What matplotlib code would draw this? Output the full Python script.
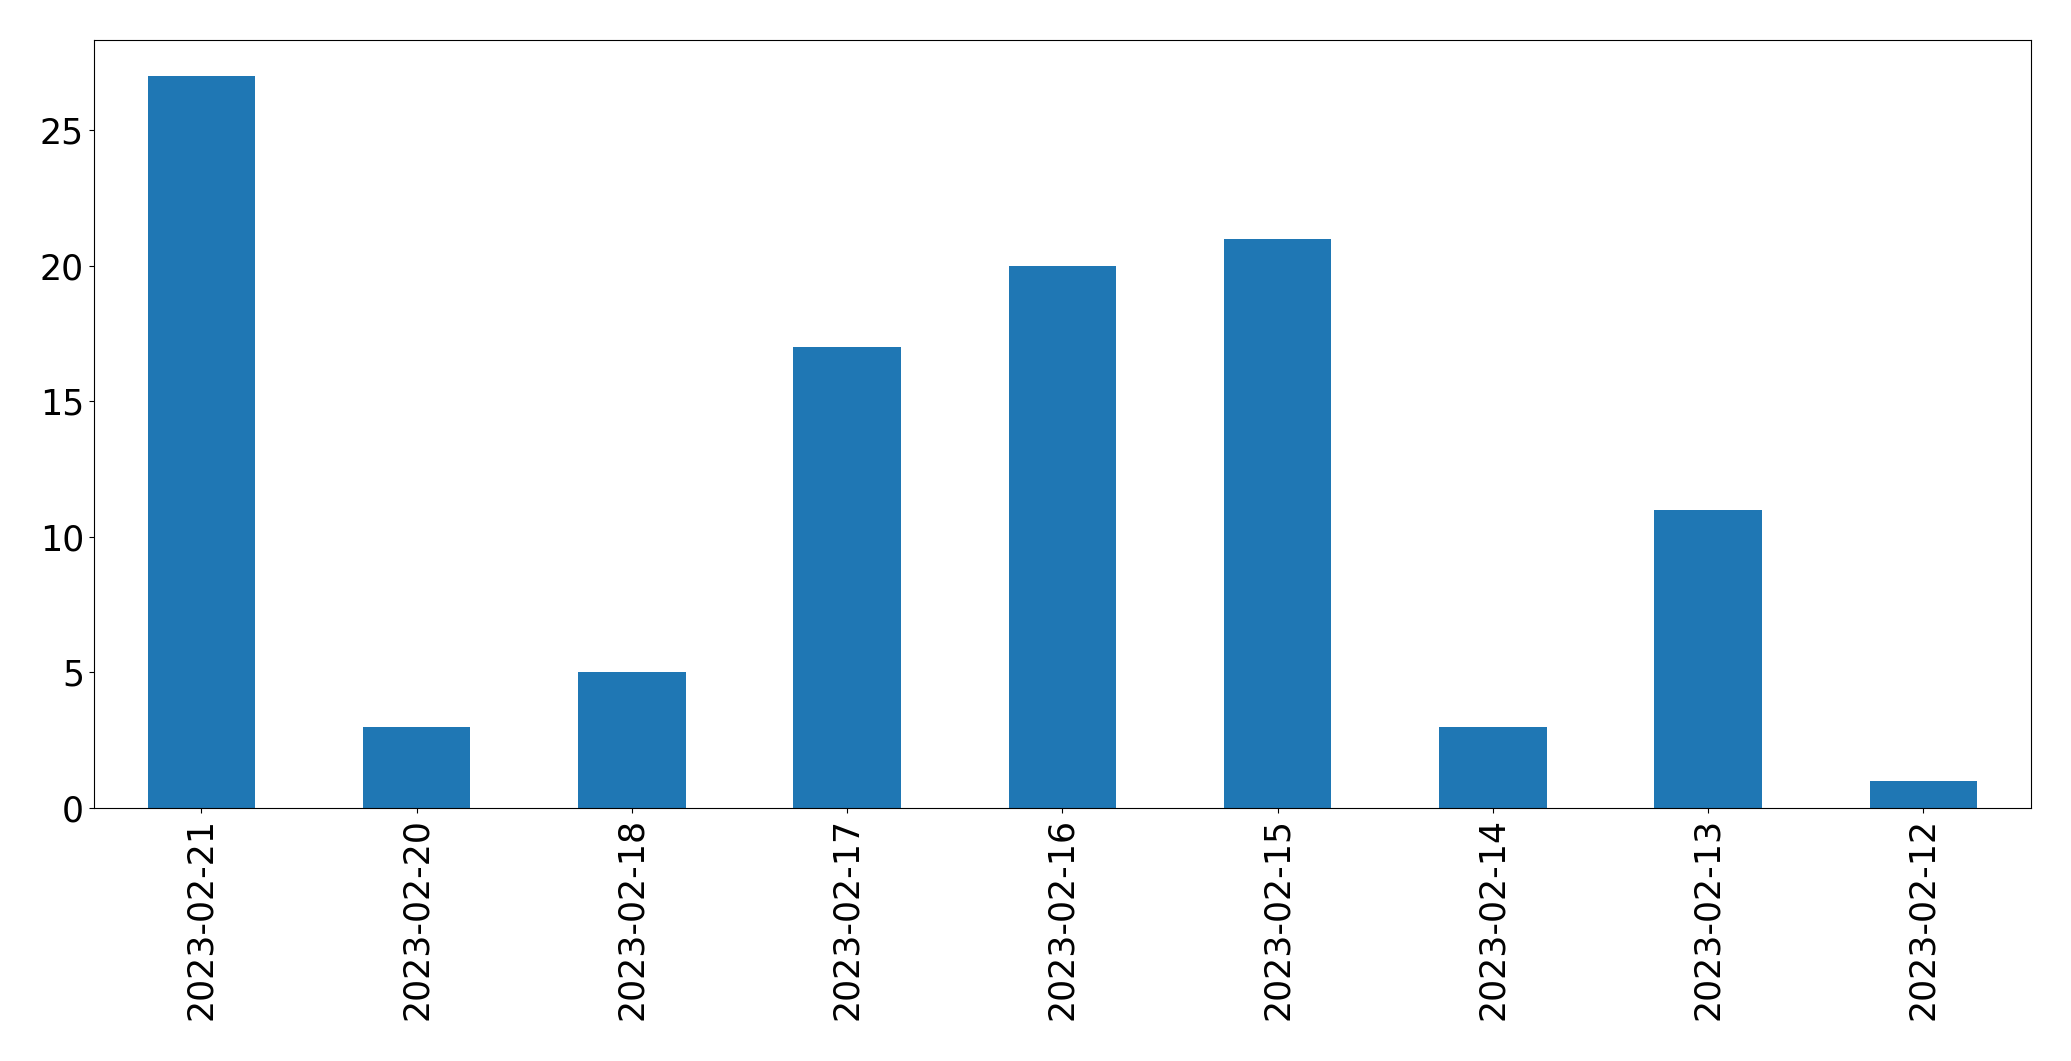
import matplotlib
matplotlib.use("Agg")
import matplotlib.pyplot as plt
import numpy as np

dates = ["2023-02-21", "2023-02-20", "2023-02-18", "2023-02-17", "2023-02-16",
         "2023-02-15", "2023-02-14", "2023-02-13", "2023-02-12"]
counts = [27, 3, 5, 17, 20, 21, 3, 11, 1]

fig = plt.figure(figsize=(20.71, 10.61), dpi=100)
ax = fig.add_axes([93.8 / 2071, 1 - 808 / 1061, (2031 - 93.8) / 2071, (808 - 39.6) / 1061])

x = np.arange(len(dates))
ax.bar(x, counts, width=0.5, color="#1f77b4")
ax.set_xlim(-0.5, len(dates) - 0.5)
ax.set_xticks(x)
ax.set_xticklabels(dates, rotation=90)
ax.tick_params(labelsize=25)

fig.savefig("out.png", dpi=100)
